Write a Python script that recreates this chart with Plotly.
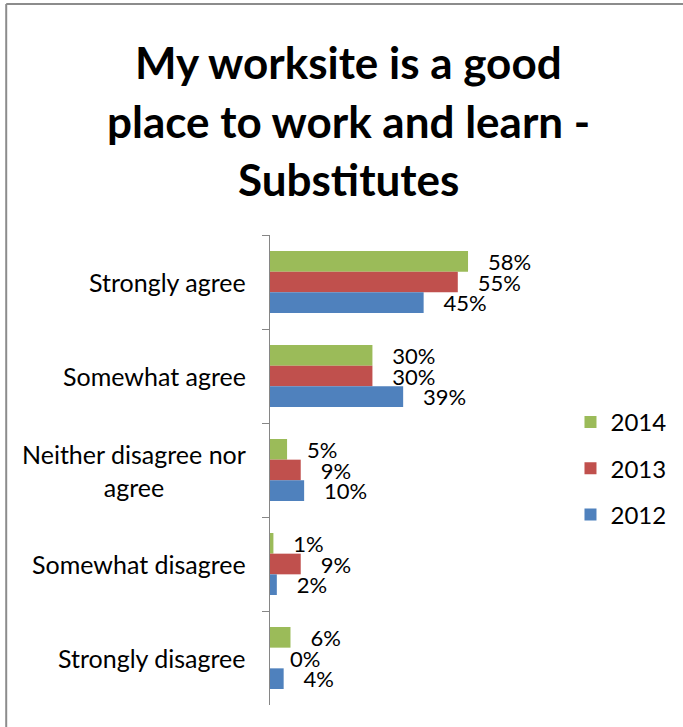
import plotly.graph_objects as go

categories = ["Strongly agree", "Somewhat agree", "Neither disagree nor<br>agree",
              "Somewhat disagree", "Strongly disagree"]
years = ["2014", "2013", "2012"]
values_2014 = [0.58, 0.30, 0.05, 0.01, 0.06]
values_2013 = [0.55, 0.30, 0.09, 0.09, 0.00]
values_2012 = [0.45, 0.39, 0.10, 0.02, 0.04]
series = [values_2014, values_2013, values_2012]
colors = ["#9BBB59", "#C0504D", "#4F81BD"]
title_lines = ["My worksite is a good", "place to work and learn -", "Substitutes"]

W, H = 683, 727
L, R, T, B = 270, 172, 235, 22
FONT = "Lato"
pw = W - L - R
ph = H - T - B


def py(yp):
    return (H - B - yp) / ph


def px(xp):
    return (xp - L) / pw


fig = go.Figure()
for yr, vals, col in zip(years, series, colors):
    fig.add_trace(go.Bar(
        y=categories, x=vals, name=yr, orientation="h",
        marker=dict(color=col, line=dict(width=0)),
        text=[f"\u00a0\u00a0\u00a0{round(v*100)}%" for v in vals],
        textposition="outside", cliponaxis=False, constraintext="none",
        textfont=dict(family=FONT, size=22, color="#000000"),
        legendgroup=yr,
    ))

for c in categories:
    fig.add_annotation(x=0, xref="paper", y=c, yref="y", xanchor="right",
                       xshift=-22, align="center", text=c, showarrow=False,
                       font=dict(family=FONT, size=25, color="#000000"))

for line, yc in zip(title_lines, [62, 121, 179]):
    fig.add_annotation(x=px(349), xref="paper", y=py(yc), yref="paper",
                       xanchor="center", yanchor="middle", text=f"<b>{line}</b>",
                       showarrow=False,
                       font=dict(family=FONT, size=44, color="#000000"))

# chart border (left and top edges visible; right/bottom run off the page)
border = dict(color="#8C8C8C", width=2)
fig.add_shape(type="line", xref="paper", yref="paper",
              x0=px(4), x1=px(4), y0=py(H + 5), y1=py(4), line=border)
fig.add_shape(type="line", xref="paper", yref="paper",
              x0=px(4), x1=px(W + 5), y0=py(4), y1=py(4), line=border)

fig.update_layout(
    width=W, height=H, margin=dict(l=L, r=R, t=T, b=B),
    paper_bgcolor="white", plot_bgcolor="white",
    barmode="group", bargap=0.34, bargroupgap=0,
    legend=dict(x=px(573), xanchor="left", y=py(400), yanchor="top", traceorder="grouped",
                font=dict(family=FONT, size=24, color="#000000"),
                tracegroupgap=12, itemwidth=30, bgcolor="rgba(0,0,0,0)"),
    xaxis=dict(range=[0, 0.7], visible=False, showgrid=False, zeroline=False),
    yaxis=dict(autorange="reversed", tickson="boundaries", ticks="outside", ticklen=7,
               tickcolor="#868686", showline=True, linecolor="#868686", linewidth=1,
               showticklabels=False, showgrid=False, zeroline=False),
    showlegend=True,
)

fig.write_html("out.html")
